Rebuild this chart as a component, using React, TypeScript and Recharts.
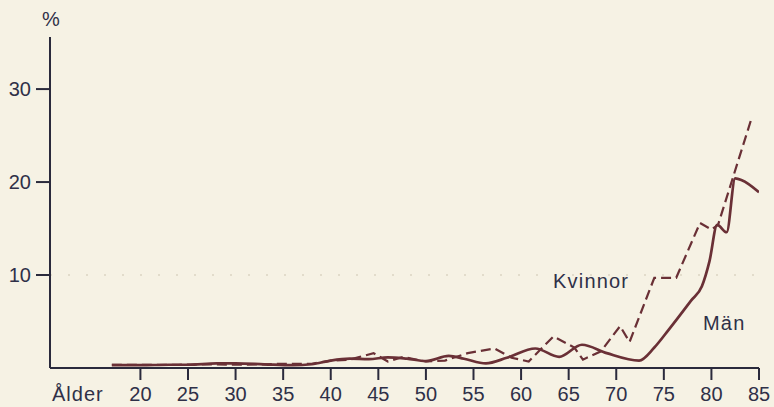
import React from 'react';
import { LineChart, Line, XAxis, YAxis, ReferenceLine } from 'recharts';

// Andel (%) per ålder, avläst ur originalfiguren
const menAges = [17, 20, 23, 25, 28, 30, 33, 36, 38, 40, 42, 44, 46, 48, 50, 52.4, 54, 56.3, 58.5, 61.5, 64, 66.4, 69, 72.4, 74, 75.5, 77.9, 79, 79.8, 80.6, 81.6, 82.5, 83.2, 85];
const menPct = [0.3, 0.3, 0.35, 0.35, 0.5, 0.5, 0.4, 0.3, 0.4, 0.8, 1.0, 0.95, 1.15, 1.0, 0.75, 1.3, 1.0, 0.5, 1.1, 2.1, 1.2, 2.5, 1.6, 0.8, 2.2, 4.1, 7.3, 8.8, 11.5, 15.4, 14.6, 20.4, 20.2, 18.9];

const womenAges = [17, 20, 24, 27, 30, 33, 35, 38, 40, 42, 44.5, 46, 47.6, 50, 52, 54.4, 57.2, 59, 60.8, 63.4, 65.6, 66.5, 68.4, 70.4, 71.4, 74, 76.3, 78.8, 80, 80.7, 84.2];
const womenPct = [0.35, 0.35, 0.35, 0.4, 0.35, 0.4, 0.45, 0.45, 0.8, 0.9, 1.6, 0.7, 1.2, 0.7, 0.8, 1.6, 2.1, 1.1, 0.7, 3.4, 2.2, 0.9, 1.8, 4.5, 2.8, 9.7, 9.7, 15.6, 14.9, 15.4, 26.8];

const xTicks = [20, 25, 30, 35, 40, 45, 50, 55, 60, 65, 70, 75, 80, 85];
const yTicks = [10, 20, 30];

const BG = '#f6f2e4';
const LINE = '#6a3036';
const AXIS = '#2a2a3c';
const TEXT = '#2f3048';
const FONT = '"Liberation Sans", Arial, sans-serif';

const menData = menAges.map((age, i) => ({ age, value: menPct[i] }));
const womenData = womenAges.map((age, i) => ({ age, value: womenPct[i] }));

export default function App() {
  const tickStyle = { fill: TEXT, fontSize: 20, fontFamily: FONT };
  return (
    <div style={{ position: 'relative', width: 774, height: 407, background: BG }}>
      <style>{`body{margin:0;background:${BG};}`}</style>
      <LineChart width={774} height={407} margin={{ top: 37, right: 15, bottom: 0, left: 0 }}>
        <ReferenceLine y={10} stroke="#e2dccb" strokeWidth={2} strokeDasharray="2 16" />
        <XAxis
          type="number"
          dataKey="age"
          domain={[10.5, 85]}
          ticks={xTicks}
          allowDataOverflow
          height={39}
          tickSize={12}
          tickMargin={7}
          tick={tickStyle}
          axisLine={{ stroke: AXIS, strokeWidth: 2 }}
          tickLine={{ stroke: AXIS, strokeWidth: 2 }}
        />
        <YAxis
          type="number"
          domain={[0, 35.6]}
          ticks={yTicks}
          allowDataOverflow
          width={50}
          tickSize={14}
          tickMargin={5}
          tick={tickStyle}
          axisLine={{ stroke: AXIS, strokeWidth: 2 }}
          tickLine={{ stroke: AXIS, strokeWidth: 2 }}
        />
        <Line
          data={womenData}
          dataKey="value"
          type="linear"
          stroke={LINE}
          strokeWidth={2.2}
          strokeDasharray="10 5"
          dot={false}
          isAnimationActive={false}
        />
        <Line
          data={menData}
          dataKey="value"
          type="monotone"
          stroke={LINE}
          strokeWidth={2.7}
          dot={false}
          isAnimationActive={false}
        />
      </LineChart>
      <svg
        width={774}
        height={407}
        style={{ position: 'absolute', left: 0, top: 0, pointerEvents: 'none' }}
      >
        <g fill={TEXT} fontSize={20} fontFamily={FONT}>
          <text x={51} y={26} textAnchor="middle">%</text>
          <text x={52} y={401} letterSpacing={1}>Ålder</text>
          <text x={553} y={288} letterSpacing={1.2}>Kvinnor</text>
          <text x={703} y={330} letterSpacing={1.2}>Män</text>
        </g>
      </svg>
    </div>
  );
}
